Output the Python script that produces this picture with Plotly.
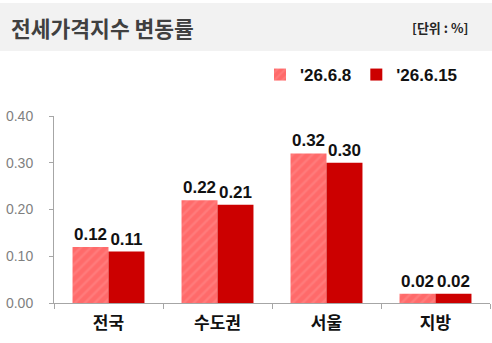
import plotly.graph_objects as go

categories = ["전국", "수도권", "서울", "지방"]
series_names = ["'26.6.8", "'26.6.15"]
values_prev = [0.12, 0.22, 0.32, 0.02]
values_curr = [0.11, 0.21, 0.30, 0.02]
y_ticks = [0.0, 0.1, 0.2, 0.3, 0.4]

W, H = 492, 343
L, R, T, B = 54, 2, 116, 40
pw, ph = W - L - R, H - T - B

def px_x(x):
    return (x - L) / pw

def px_y(y):
    return (H - B - y) / ph

label_font = dict(family="Liberation Sans, Arial, sans-serif", size=17, color="#111111")

fig = go.Figure()
fig.add_trace(go.Bar(
    x=categories, y=values_prev, name="<b>" + series_names[0] + "</b>",
    marker=dict(color="#ff6f6f",
                pattern=dict(shape="/", fgcolor="#ff8c8c", bgcolor="#ff6a6a", size=7, solidity=0.35),
                line=dict(width=0)),
    texttemplate="<b>%{y:.2f}</b>", textposition="outside", textfont=label_font,
    cliponaxis=False,
))
fig.add_trace(go.Bar(
    x=categories, y=values_curr, name="<b>" + series_names[1] + "</b>",
    marker=dict(color="#cc0000", line=dict(width=0)),
    texttemplate="<b>%{y:.2f}</b>", textposition="outside", textfont=label_font,
    cliponaxis=False,
))

# header band
fig.add_shape(type="rect", xref="paper", yref="paper",
              x0=px_x(0), x1=px_x(W), y0=px_y(51), y1=px_y(3),
              fillcolor="#f2f2f2", line=dict(width=0), layer="below")
fig.add_annotation(text="<b>전세가격지수 변동률</b>", xref="paper", yref="paper",
                   x=px_x(9), y=px_y(27), xanchor="left", yanchor="middle", showarrow=False,
                   font=dict(family="Noto Sans CJK KR", size=21.5, color="#404040"))
fig.add_annotation(text="<b>[단위 : %]</b>", xref="paper", yref="paper",
                   x=px_x(470), y=px_y(28), xanchor="right", yanchor="middle", showarrow=False,
                   font=dict(family="Noto Sans CJK KR", size=13, color="#262626"))

fig.update_layout(
    width=W, height=H,
    margin=dict(l=L, r=R, t=T, b=B, pad=0),
    paper_bgcolor="white", plot_bgcolor="white",
    barmode="group", bargap=0.34, bargroupgap=0,
    showlegend=True,
    legend=dict(orientation="h", x=px_x(260), y=px_y(75), xanchor="left", yanchor="middle",
                font=dict(family="Liberation Sans, Arial, sans-serif", size=17, color="#111111"),
                itemwidth=30, traceorder="normal", bgcolor="rgba(0,0,0,0)",
                itemclick=False),
    font=dict(family="Noto Sans CJK KR"),
)
fig.update_xaxes(
    showline=True, linecolor="#a6a6a6", linewidth=1,
    ticks="outside", tickson="boundaries", ticklen=5, tickcolor="#a6a6a6",
    tickfont=dict(family="Noto Sans CJK KR", size=17, color="#111111", weight="bold"),
    ticklabelstandoff=5,
    showgrid=False,
)
fig.update_yaxes(
    range=[0, 0.4], tickvals=y_ticks, ticktext=[f"{v:.2f}" for v in y_ticks],
    showline=True, linecolor="#a6a6a6", linewidth=1,
    ticks="outside", ticklen=4, tickcolor="#a6a6a6",
    tickfont=dict(family="Liberation Sans, Arial, sans-serif", size=14, color="#7f7f7f"),
    ticklabelstandoff=13,
    showgrid=False, zeroline=False,
)

fig.write_html("out.html")
